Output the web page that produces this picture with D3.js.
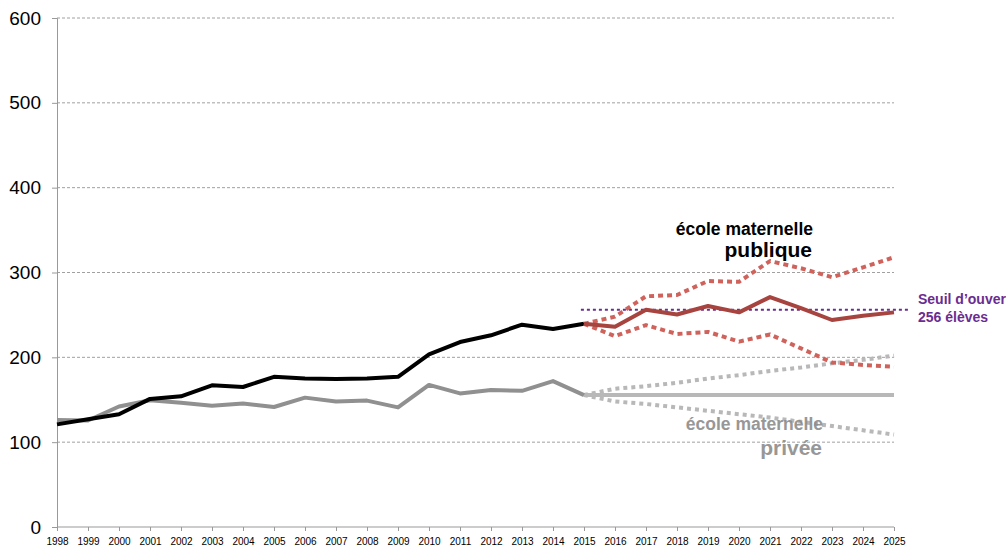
<!DOCTYPE html>
<html><head><meta charset="utf-8">
<script src="https://cdn.jsdelivr.net/npm/d3@7"></script>
<style>body{margin:0;background:#fff;}svg{display:block;font-family:"Liberation Sans",Arial,sans-serif;}</style>
</head><body><svg id="c" width="1006" height="548"></svg>
<script>
const years = d3.range(1998, 2026);
const yTicks = [0,100,200,300,400,500,600];
const histYears = d3.range(1998, 2016);
const publicHist = [121,127,133,151,154,167,165,177,175,174.5,175,177,203.5,218,226,238.5,233.5,239.5];
const privateHist = [126,125.5,142,149.5,146.5,143,145.5,141.5,152.5,148,149,141,167.5,157.5,161.5,160.5,172,155.5];
const projYears = d3.range(2015, 2026);
const publicCentral = [239.5,236,256,250.5,260.5,253,271,258,244,249,253];
const publicHigh = [239.5,248,272,273.5,290,289,313.5,305,294.5,306,318];
const publicLow = [239.5,225,238,227.5,230,218.5,227,210.5,194,191,189];
const privateCentral = [155.5,155.5,155.5,155.5,155.5,155.5,155.5,155.5,155.5,155.5,155.5];
const privateHigh = [155.5,163,166,170,175,179,184,188,193,197,202];
const privateLow = [155.5,148,145,141,137,133,129,124,119,114,109];
const threshold = 256;
const thresholdYears = [2014.9, 2025.45];

const svg = d3.select("#c");
const x = d3.scaleLinear().domain([1998, 2025]).range([57, 894]);
const y = d3.scaleLinear().domain([0, 600]).range([527, 18]);

// gridlines
svg.append("g").selectAll("line").data(yTicks.filter(d=>d>0)).join("line")
  .attr("x1", 57).attr("x2", 894).attr("y1", d=>y(d)).attr("y2", d=>y(d))
  .attr("stroke", "#a0a0a0").attr("stroke-width", 1).attr("stroke-dasharray", "3,2");

// y axis
const ya = svg.append("g").attr("transform","translate(57,0)")
  .call(d3.axisLeft(y).tickValues(yTicks).tickSize(5).tickPadding(11));
ya.select(".domain").attr("stroke","#999");
ya.selectAll(".tick line").attr("stroke","#999");
ya.selectAll("text").attr("font-size", 19).attr("fill","#000").attr("font-family","Liberation Sans, Arial, sans-serif");

// x axis
const xa = svg.append("g").attr("transform","translate(0,527)")
  .call(d3.axisBottom(x).tickValues(years).tickFormat(d3.format("d")).tickSize(4).tickPadding(7));
xa.select(".domain").attr("stroke","#999").attr("d","M57,0H894");
xa.selectAll(".tick line").attr("stroke","#999");
xa.selectAll("text").attr("font-size", 10).attr("fill","#000").attr("font-family","Liberation Sans, Arial, sans-serif");

const line = d3.line().x(d=>x(d[0])).y(d=>y(d[1]));
function draw(ys, vals, color, width, dash){
  svg.append("path").datum(ys.map((yr,i)=>[yr, vals[i]]))
    .attr("d", line).attr("fill","none").attr("stroke", color)
    .attr("stroke-width", width).attr("stroke-linejoin","round")
    .attr("stroke-dasharray", dash || null);
}

// private
draw(projYears, privateHigh, "#b8b8b8", 4, "4,4");
draw(projYears, privateLow, "#b8b8b8", 4, "4,4");
draw(projYears, privateCentral, "#b8b8b8", 4);
draw(histYears, privateHist, "#909090", 4);

// threshold
svg.append("line").attr("x1", x(thresholdYears[0])).attr("x2", x(thresholdYears[1]))
  .attr("y1", y(threshold)).attr("y2", y(threshold))
  .attr("stroke","#6a2d8f").attr("stroke-width",2).attr("stroke-dasharray","3,3");

// public
draw(histYears, publicHist, "#000", 4);
draw(projYears, publicHigh, "#d0625c", 4, "5,4");
draw(projYears, publicLow, "#d0625c", 4, "5,4");
draw(projYears, publicCentral, "#a8443f", 4);

// labels
const lab = svg.append("g").attr("font-weight","bold");
lab.append("text").attr("x", 813).attr("y", 235).attr("text-anchor","end").attr("font-size",17.5).attr("fill","#000").text("école maternelle");
lab.append("text").attr("x", 812).attr("y", 257).attr("text-anchor","end").attr("font-size",21).attr("fill","#000").text("publique");
lab.append("text").attr("x", 823).attr("y", 430).attr("text-anchor","end").attr("font-size",17.5).attr("fill","#8c8c8c").attr("opacity",0.9).text("école maternelle");
lab.append("text").attr("x", 822).attr("y", 455).attr("text-anchor","end").attr("font-size",21).attr("fill","#8c8c8c").attr("opacity",0.9).text("privée");
lab.append("text").attr("x", 918).attr("y", 304).attr("font-size",14).attr("fill","#6a2d8f").text("Seuil d’ouverture");
lab.append("text").attr("x", 918).attr("y", 322).attr("font-size",14).attr("fill","#6a2d8f").text("256 élèves");
</script></body></html>
